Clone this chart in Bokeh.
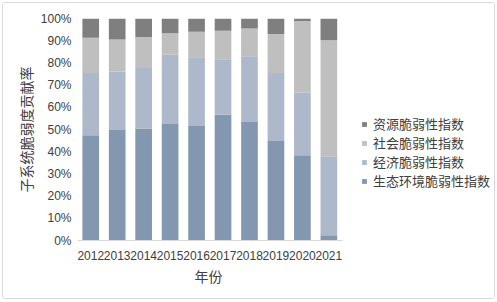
from bokeh.plotting import figure
from bokeh.models import (Range1d, FixedTicker, PrintfTickFormatter, Legend, LegendItem, Title)
from bokeh.embed import file_html
from bokeh.resources import INLINE

years = [2012, 2013, 2014, 2015, 2016, 2017, 2018, 2019, 2020, 2021]
eco = [47.4, 49.8, 50.5, 52.5, 51.6, 56.7, 53.4, 44.8, 38.4, 2.4]
econ = [28.0, 26.3, 27.2, 31.2, 31.0, 25.0, 29.6, 30.7, 28.3, 35.6]
social = [15.9, 14.4, 14.0, 9.6, 11.4, 12.8, 12.5, 17.5, 32.2, 52.2]
resource = [8.7, 9.5, 8.3, 6.7, 6.0, 5.5, 4.5, 7.0, 1.1, 9.8]

series = ["生态环境脆弱性指数", "经济脆弱性指数", "社会脆弱性指数", "资源脆弱性指数"]
colors = ["#8497B0", "#ADB9CA", "#BFBFBF", "#7F7F7F"]
y_ticks = list(range(0, 101, 10))

data = {"year": years, series[0]: eco, series[1]: econ, series[2]: social, series[3]: resource}

CJK = "Noto Sans CJK SC"
LAT = "Liberation Sans"

x0 = years[0] - 0.5
x1 = years[-1] + 0.5
# frame extends to the right to host the legend; bars keep Excel-like spacing
p = figure(x_range=Range1d(x0, x0 + 15.76), y_range=Range1d(0, 100),
           width=493, height=297, output_backend="svg", toolbar_location=None,
           min_border_left=74, min_border_right=2, min_border_top=15, min_border_bottom=60)
p.styles = {"border": "1px solid #D9D9D9", "border-radius": "3px", "margin": "2px 0 0 2px"}
p.outline_line_color = None
p.grid.visible = False
p.background_fill_color = "white"

rs = p.vbar_stack(series, x="year", width=0.63, color=colors, line_color=None, source=data)

yax = p.yaxis[0]
yax.ticker = FixedTicker(ticks=y_ticks)
yax.formatter = PrintfTickFormatter(format="%d%%")
yax.axis_line_color = None
yax.major_tick_line_color = None
yax.minor_tick_line_color = None
yax.major_tick_out = 0
yax.major_tick_in = 0
yax.major_label_text_font = LAT
yax.major_label_text_font_size = "12px"
yax.major_label_text_color = "#404040"
yax.major_label_standoff = 6
yax.axis_label = "子系统脆弱度贡献率"
yax.axis_label_text_font = CJK
yax.axis_label_text_font_size = "14px"
yax.axis_label_text_font_style = "normal"
yax.axis_label_text_color = "#404040"
yax.axis_label_standoff = 2

xax = p.xaxis[0]
xax.ticker = FixedTicker(ticks=years)
xax.formatter = PrintfTickFormatter(format="%d")
xax.bounds = (x0, x1)
xax.axis_line_color = "#D9D9D9"
xax.major_tick_line_color = None
xax.minor_tick_line_color = None
xax.major_tick_out = 0
xax.major_tick_in = 0
xax.major_label_text_font = LAT
xax.major_label_text_font_size = "12px"
xax.major_label_text_color = "#404040"
xax.major_label_standoff = 10

# x-axis title centred under the bars (not under the wider frame)
xtitle = Title(text="年份", align="left", offset=117, standoff=2,
               text_font=CJK, text_font_size="14px", text_font_style="normal",
               text_color="#404040")
p.add_layout(xtitle, "below")

items = [LegendItem(label=series[i], renderers=[rs[i]]) for i in [3, 2, 1, 0]]
legend = Legend(items=items, location=(284, 50), padding=0, margin=0,
                border_line_color=None, background_fill_alpha=0,
                glyph_width=6, glyph_height=6, label_standoff=6, spacing=0,
                label_text_font=CJK, label_text_font_size="13px",
                label_text_color="#404040", label_height=15)
p.add_layout(legend, "center")

open("out.html", "w").write(file_html(p, INLINE))
